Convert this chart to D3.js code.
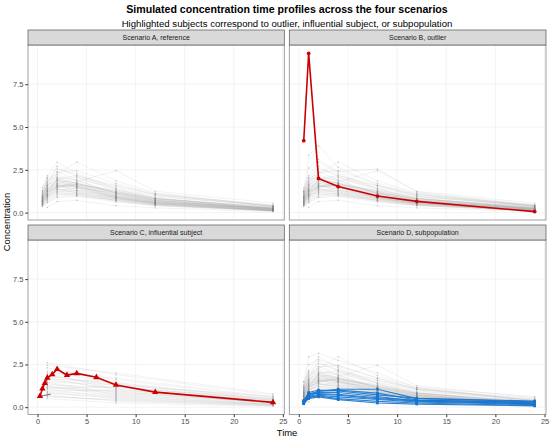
<!DOCTYPE html>
<html>
<head>
<meta charset="utf-8">
<script src="https://cdn.jsdelivr.net/npm/d3@7"></script>
<style>
  html, body { margin: 0; padding: 0; background: #fff; }
  svg { display: block; font-family: "Liberation Sans", Arial, sans-serif; }
</style>
</head>
<body>
<svg id="chart" width="550" height="439"></svg>
<script>
// ---------- data ----------
var panelTitles = ["Scenario A, reference", "Scenario B, outlier", "Scenario C, influential subject", "Scenario D, subpopulation"];
var sampleTimes = [0.5, 1, 2, 4, 8, 12, 24];
var sparseTimes = [1, 8, 24];
var yTicks = [0, 2.5, 5, 7.5];
var xTicks = [0, 5, 10, 15, 20, 25];

// background subjects shared by scenarios A, B and D (one row per subject, at sampleTimes)
var bgProfiles = [
  [0.62, 1.05, 1.55, 1.40, 0.95, 0.62, 0.20],
  [0.85, 1.40, 1.90, 1.75, 1.10, 0.70, 0.22],
  [0.45, 0.80, 1.20, 1.30, 0.98, 0.66, 0.25],
  [1.10, 1.75, 2.20, 1.85, 1.15, 0.72, 0.18],
  [0.55, 0.95, 1.35, 1.20, 0.80, 0.50, 0.14],
  [0.75, 1.30, 1.75, 1.95, 1.45, 0.98, 0.38],
  [0.95, 1.60, 2.05, 1.60, 0.90, 0.52, 0.12],
  [0.40, 0.62, 0.95, 1.05, 0.82, 0.58, 0.24],
  [1.30, 2.05, 2.55, 2.20, 1.35, 0.82, 0.25],
  [0.68, 1.15, 1.60, 1.50, 1.05, 0.70, 0.26],
  [0.52, 0.88, 1.45, 1.65, 1.30, 0.92, 0.42],
  [0.88, 1.50, 1.85, 1.45, 0.85, 0.48, 0.10],
  [0.60, 1.00, 1.25, 1.10, 0.72, 0.45, 0.12],
  [1.05, 1.55, 2.35, 2.45, 1.70, 1.10, 0.40],
  [0.72, 1.22, 1.70, 1.55, 1.00, 0.64, 0.19],
  [0.48, 0.75, 1.10, 0.98, 0.62, 0.40, 0.10],
  [0.98, 1.70, 2.70, 2.10, 1.25, 0.75, 0.20],
  [0.58, 1.08, 1.50, 1.70, 1.25, 0.85, 0.32],
  [0.82, 1.35, 1.65, 1.35, 0.85, 0.55, 0.16],
  [1.20, 1.90, 2.10, 1.70, 1.00, 0.60, 0.15],
  [0.65, 1.12, 1.95, 2.05, 1.55, 1.05, 0.45],
  [0.42, 0.70, 1.05, 1.15, 0.90, 0.62, 0.28],
  [0.90, 1.45, 1.80, 1.65, 1.20, 0.80, 0.30],
  [0.70, 1.25, 1.40, 1.15, 0.70, 0.42, 0.09],
  [1.45, 2.15, 2.95, 2.30, 1.40, 0.85, 0.22],
  [0.50, 0.92, 1.30, 1.45, 1.15, 0.80, 0.35],
  [0.78, 1.28, 1.58, 1.25, 0.78, 0.50, 0.13],
  [0.95, 1.62, 2.00, 2.15, 1.60, 1.05, 0.36],
  [0.63, 0.98, 1.38, 1.28, 0.88, 0.58, 0.17],
  [1.15, 1.82, 2.40, 1.90, 1.12, 0.66, 0.16],
  [0.36, 0.58, 0.88, 0.95, 0.75, 0.52, 0.20],
  [0.86, 1.38, 1.72, 1.58, 1.08, 0.72, 0.24],
  [0.74, 1.20, 1.52, 1.80, 2.45, 1.25, 0.55],
  [0.55, 1.02, 1.62, 1.52, 0.95, 0.58, 0.14],
  [1.00, 1.58, 1.95, 1.50, 0.88, 0.54, 0.11],
  [0.66, 1.10, 1.48, 1.62, 1.20, 0.82, 0.30],
  [1.25, 2.00, 2.25, 2.95, 1.85, 1.15, 0.38],
  [0.46, 0.85, 1.18, 1.05, 0.68, 0.44, 0.12],
  [0.80, 1.32, 1.88, 1.72, 1.15, 0.76, 0.27],
  [0.58, 0.30, 0.65, 0.72, 0.40, 0.28, 0.06]
];
var bgExtraB = [
  [1.20, 3.35, 3.90, 2.65, 1.60, 0.95, 0.40],
  [0.90, 2.60, 3.10, 2.40, 2.55, 1.20, 0.45]
];
var bgExtraD = [
  [1.50, 2.95, 3.15, 2.75, 2.00, 1.15, 0.62],
  [1.10, 2.50, 2.80, 2.40, 1.70, 1.05, 0.50]
];

// scenario C background: sparse sampling at 1, 8, 24 h
var bgSparse = [
  [1.20, 0.90, 0.30], [1.60, 1.10, 0.35], [0.80, 0.60, 0.20], [2.10, 1.40, 0.45],
  [1.40, 0.75, 0.18], [0.95, 1.00, 0.40], [1.85, 1.25, 0.30], [0.60, 0.45, 0.12],
  [2.60, 1.90, 0.70], [1.30, 1.15, 0.50], [1.05, 0.55, 0.15], [1.75, 0.95, 0.25],
  [0.70, 0.35, 0.08], [2.30, 1.60, 0.55], [1.50, 1.30, 0.62], [0.90, 0.70, 0.28],
  [1.95, 1.05, 0.22], [1.15, 0.80, 0.33], [2.45, 2.00, 0.78], [0.50, 0.25, 0.05],
  [1.65, 1.45, 0.48], [1.25, 0.65, 0.16], [2.00, 1.70, 0.60], [0.85, 0.50, 0.14],
  [1.45, 0.85, 0.26], [1.10, 1.20, 0.42], [1.80, 1.35, 0.38], [0.65, 0.40, 0.10]
];
var darkSegTimes = [0.25, 1.35];
var darkSegValues = [0.64, 0.76];

// highlighted subjects
var outlierValues = [4.20, 9.30, 2.00, 1.52, 0.97, 0.66, 0.06];
var influentialTimes = [0.25, 0.5, 0.75, 1, 1.5, 2, 3, 4, 6, 8, 12, 24];
var influentialValues = [0.64, 1.08, 1.40, 1.72, 1.92, 2.22, 1.88, 1.98, 1.75, 1.30, 0.88, 0.28];
var subpopProfiles = [
  [0.35, 0.75, 0.95, 1.05, 1.05, 0.50, 0.32],
  [0.30, 0.72, 0.92, 1.00, 0.82, 0.42, 0.26],
  [0.25, 0.66, 0.86, 0.86, 0.62, 0.36, 0.20],
  [0.32, 0.82, 0.80, 0.75, 0.55, 0.40, 0.30],
  [0.20, 0.56, 0.70, 0.60, 0.45, 0.30, 0.15],
  [0.26, 0.60, 0.66, 0.50, 0.34, 0.24, 0.10],
  [0.40, 0.86, 1.00, 0.95, 0.72, 0.52, 0.36],
  [0.20, 0.50, 0.60, 0.44, 0.24, 0.18, 0.07],
  [0.30, 0.62, 0.76, 0.70, 0.50, 0.35, 0.20]
];

// ---------- layout ----------
var svg = d3.select("#chart");
var cols = [[28, 284.3], [289.3, 546]];
var rows = [{ strip: 30, top: 45, bottom: 220 }, { strip: 225, top: 240, bottom: 414.5 }];
var red = "#cc0000", blue = "#1874cd";

svg.append("text").attr("x", 287).attr("y", 13).attr("text-anchor", "middle")
  .attr("font-size", 10.6).attr("font-weight", "bold").attr("fill", "#000")
  .text("Simulated concentration time profiles across the four scenarios");
svg.append("text").attr("x", 287).attr("y", 26.5).attr("text-anchor", "middle")
  .attr("font-size", 9.6).attr("fill", "#000")
  .text("Highlighted subjects correspond to outlier, influential subject, or subpopulation");

function toPts(times, vals) { return times.map(function (t, i) { return { t: t, v: vals[i] }; }); }

function drawPanel(idx) {
  var c = cols[idx % 2], r = rows[Math.floor(idx / 2)];
  var x = d3.scaleLinear().domain([-0.97, 25.15]).range([c[0], c[1]]);
  var y = d3.scaleLinear().domain([-0.43, 9.79]).range([r.bottom, r.top]);
  var g = svg.append("g");
  var clipId = "clip" + idx;
  g.append("clipPath").attr("id", clipId).append("rect")
    .attr("x", c[0]).attr("y", r.top).attr("width", c[1] - c[0]).attr("height", r.bottom - r.top);

  // grid
  g.selectAll(".gy").data(yTicks).enter().append("line")
    .attr("x1", c[0]).attr("x2", c[1]).attr("y1", function (d) { return y(d); }).attr("y2", function (d) { return y(d); })
    .attr("stroke", "#ebebeb").attr("stroke-width", 0.6);
  g.selectAll(".gx").data(xTicks).enter().append("line")
    .attr("y1", r.top).attr("y2", r.bottom).attr("x1", function (d) { return x(d); }).attr("x2", function (d) { return x(d); })
    .attr("stroke", "#ebebeb").attr("stroke-width", 0.6);

  var plot = g.append("g").attr("clip-path", "url(#" + clipId + ")");
  var line = d3.line().x(function (d) { return x(d.t); }).y(function (d) { return y(d.v); });

  function grey(times, profiles) {
    var subj = profiles.map(function (p) { return toPts(times, p); });
    plot.append("g").selectAll("path").data(subj).enter().append("path")
      .attr("d", line).attr("fill", "none").attr("stroke", "#8c8c8c").attr("stroke-opacity", 0.25).attr("stroke-width", 0.45);
    plot.append("g").selectAll("circle").data(d3.merge(subj)).enter().append("circle")
      .attr("cx", function (d) { return x(d.t); }).attr("cy", function (d) { return y(d.v); })
      .attr("r", 0.8).attr("fill", "#808080").attr("fill-opacity", 0.4);
  }

  if (idx === 0) grey(sampleTimes, bgProfiles);
  if (idx === 1) {
    grey(sampleTimes, bgProfiles.concat(bgExtraB));
    var o = toPts(sampleTimes, outlierValues);
    plot.append("path").datum(o).attr("d", line).attr("fill", "none").attr("stroke", red).attr("stroke-width", 1.6);
    plot.append("g").selectAll("circle").data(o).enter().append("circle")
      .attr("cx", function (d) { return x(d.t); }).attr("cy", function (d) { return y(d.v); })
      .attr("r", 1.9).attr("fill", red);
  }
  if (idx === 2) {
    grey(sparseTimes, bgSparse);
    plot.append("path").datum(toPts(darkSegTimes, darkSegValues)).attr("d", line)
      .attr("fill", "none").attr("stroke", "#333").attr("stroke-width", 0.7);
    var inf = toPts(influentialTimes, influentialValues);
    plot.append("path").datum(inf).attr("d", line).attr("fill", "none").attr("stroke", red).attr("stroke-width", 1.6);
    plot.append("g").selectAll("path").data(inf).enter().append("path")
      .attr("d", d3.symbol().type(d3.symbolTriangle).size(18))
      .attr("transform", function (d) { return "translate(" + x(d.t) + "," + y(d.v) + ")"; })
      .attr("fill", red);
  }
  if (idx === 3) {
    grey(sampleTimes, bgProfiles.concat(bgExtraD));
    var sp = subpopProfiles.map(function (p) { return toPts(sampleTimes, p); });
    plot.append("g").selectAll("path").data(sp).enter().append("path")
      .attr("d", line).attr("fill", "none").attr("stroke", blue).attr("stroke-width", 1.1).attr("stroke-opacity", 0.9);
    plot.append("g").selectAll("rect").data(d3.merge(sp)).enter().append("rect")
      .attr("x", function (d) { return x(d.t) - 1.3; }).attr("y", function (d) { return y(d.v) - 1.3; })
      .attr("width", 2.6).attr("height", 2.6).attr("fill", blue);
  }

  // panel border + strip
  g.append("rect").attr("x", c[0]).attr("y", r.top).attr("width", c[1] - c[0]).attr("height", r.bottom - r.top)
    .attr("fill", "none").attr("stroke", "#8a8a8a").attr("stroke-width", 0.8);
  g.append("rect").attr("x", c[0]).attr("y", r.strip).attr("width", c[1] - c[0]).attr("height", r.top - r.strip)
    .attr("fill", "#d9d9d9").attr("stroke", "#555").attr("stroke-width", 0.7);
  g.append("text").attr("x", (c[0] + c[1]) / 2).attr("y", (r.strip + r.top) / 2 + 2.5)
    .attr("text-anchor", "middle").attr("font-size", 7).attr("fill", "#1a1a1a").text(panelTitles[idx]);

  // axes
  if (idx % 2 === 0) {
    var ay = g.append("g").attr("transform", "translate(" + c[0] + ",0)")
      .call(d3.axisLeft(y).tickValues(yTicks).tickFormat(d3.format(".1f")).tickSize(2.7).tickPadding(2));
    ay.select(".domain").remove();
    ay.selectAll("line").attr("stroke", "#333");
    ay.selectAll("text").attr("font-size", 7.4).attr("fill", "#4d4d4d").attr("font-family", null);
  }
  if (idx >= 2) {
    var ax = g.append("g").attr("transform", "translate(0," + r.bottom + ")")
      .call(d3.axisBottom(x).tickValues(xTicks).tickFormat(d3.format("d")).tickSize(2.7).tickPadding(2));
    ax.select(".domain").remove();
    ax.selectAll("line").attr("stroke", "#333");
    ax.selectAll("text").attr("font-size", 7.4).attr("fill", "#4d4d4d").attr("font-family", null);
  }
}

[0, 1, 2, 3].forEach(drawPanel);

svg.append("text").attr("x", 287).attr("y", 436).attr("text-anchor", "middle")
  .attr("font-size", 9.4).attr("fill", "#000").text("Time");
svg.append("text").attr("transform", "translate(10,222) rotate(-90)").attr("text-anchor", "middle")
  .attr("font-size", 9.4).attr("fill", "#000").text("Concentration");
</script>
</body>
</html>
